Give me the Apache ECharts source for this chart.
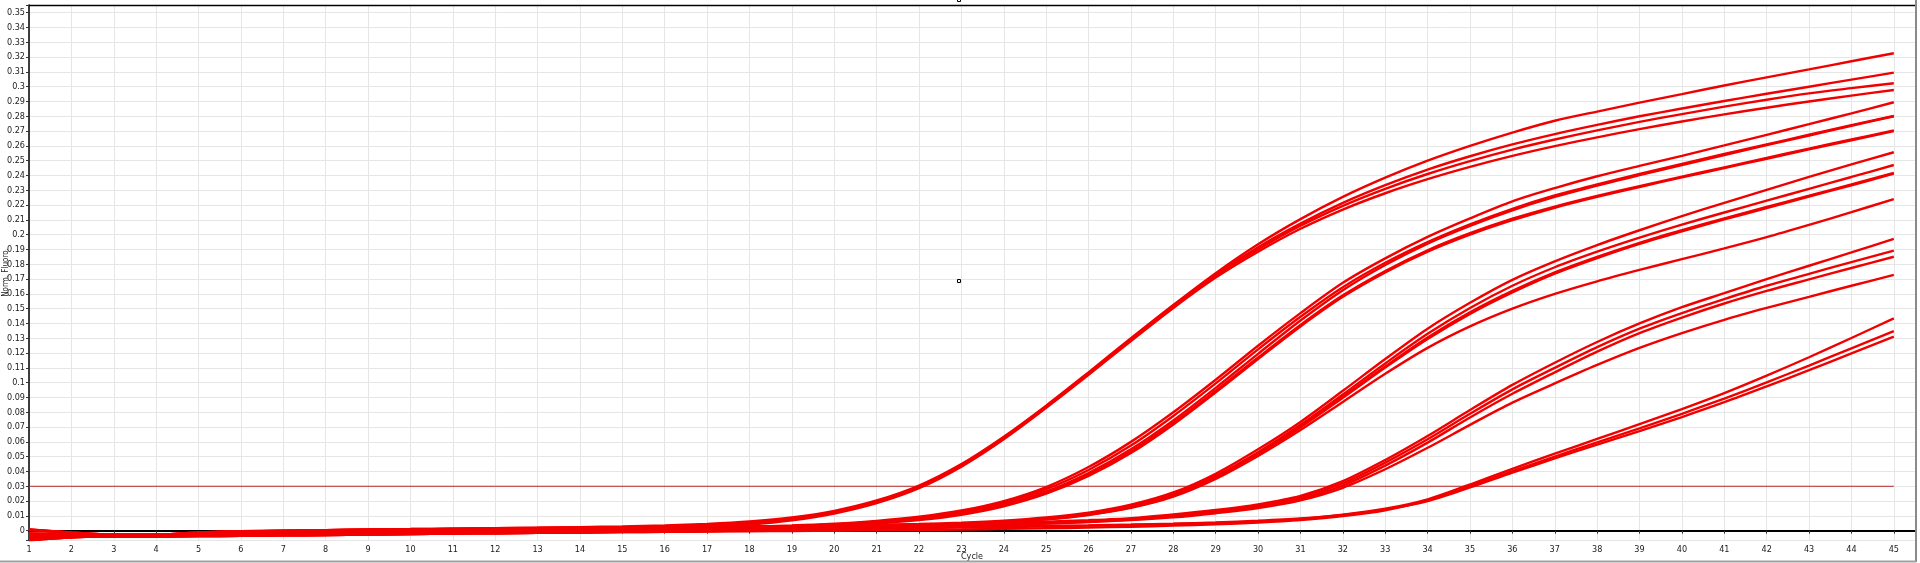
<!DOCTYPE html>
<html>
<head>
<meta charset="utf-8">
<title>Amplification</title>
<script src="https://cdn.jsdelivr.net/npm/echarts@6/dist/echarts.min.js"></script>
<style>
  html, body { margin: 0; padding: 0; background: #fff; }
  #chart { width: 1920px; height: 563px; }
</style>
</head>
<body>
<div id="chart"></div>
<script>
// cycle numbers (x)
const cycles = [1,2,3,4,5,6,7,8,9,10,11,12,13,14,15,16,17,18,19,20,21,22,23,24,25,26,27,28,29,30,31,32,33,34,35,36,37,38,39,40,41,42,43,44,45];

// threshold
const threshold = 0.03;
const thresholdCycles = [1, 45];

// group A (earliest)
const curveA1 = [0.0008,-0.0012,-0.0026,-0.0026,-0.0012,-0.0004,0.0000,0.0004,0.0008,0.0011,0.0014,0.0017,0.0020,
  0.0024,0.0029,0.0036,0.0046,0.0062,0.0089,0.0134,0.0204,0.0305,0.0450,0.0635,0.0845,0.1070,0.1300,0.1525,0.1740,
  0.1935,0.2105,0.2255,0.2385,0.2500,0.2600,0.2690,0.2770,0.2832,0.2892,0.2950,0.3008,0.3063,0.3117,0.3172,0.3226];
const curveA2 = [-0.0040,-0.0035,-0.0034,-0.0034,-0.0030,-0.0026,-0.0022,-0.0018,-0.0014,-0.0010,-0.0007,-0.0004,-0.0001,
  0.0003,0.0009,0.0017,0.0029,0.0047,0.0076,0.0122,0.0192,0.0293,0.0440,0.0625,0.0838,0.1062,0.1292,0.1516,0.1730,
  0.1915,0.2075,0.2215,0.2335,0.2440,0.2530,0.2610,0.2680,0.2742,0.2800,0.2853,0.2903,0.2952,0.3000,0.3048,0.3095];
const curveA3 = [-0.0020,-0.0025,-0.0030,-0.0030,-0.0022,-0.0016,-0.0012,-0.0008,-0.0005,-0.0002,0.0001,0.0004,0.0007,
  0.0011,0.0016,0.0024,0.0035,0.0052,0.0080,0.0126,0.0196,0.0297,0.0442,0.0627,0.0838,0.1060,0.1288,0.1510,0.1720,
  0.1900,0.2060,0.2195,0.2310,0.2410,0.2497,0.2575,0.2643,0.2705,0.2762,0.2815,0.2865,0.2912,0.2955,0.2990,0.3023];
const curveA4 = [-0.0055,-0.0040,-0.0037,-0.0036,-0.0033,-0.0030,-0.0027,-0.0023,-0.0019,-0.0016,-0.0013,-0.0010,-0.0007,
  -0.0003,0.0003,0.0011,0.0023,0.0041,0.0070,0.0116,0.0186,0.0287,0.0433,0.0618,0.0830,0.1053,0.1282,0.1505,0.1710,
  0.1885,0.2040,0.2170,0.2280,0.2375,0.2458,0.2532,0.2598,0.2658,0.2713,0.2765,0.2813,0.2858,0.2900,0.2940,0.2978];

// group B
const curveB1 = [0.0005,-0.0014,-0.0027,-0.0027,-0.0014,-0.0006,-0.0002,0.0002,0.0005,0.0008,0.0011,0.0013,0.0015,
  0.0017,0.0019,0.0021,0.0024,0.0028,0.0035,0.0047,0.0066,0.0094,0.0136,0.0200,0.0295,0.0430,0.0600,0.0800,0.1020,
  0.1250,0.1470,0.1675,0.1840,0.1985,0.2110,0.2225,0.2315,0.2395,0.2465,0.2533,0.2603,0.2675,0.2747,0.2820,0.2895];
const curveB2 = [-0.0065,-0.0045,-0.0040,-0.0039,-0.0037,-0.0034,-0.0032,-0.0029,-0.0026,-0.0023,-0.0020,-0.0017,-0.0014,
  -0.0011,-0.0008,-0.0004,0.0001,0.0008,0.0018,0.0033,0.0054,0.0084,0.0128,0.0190,0.0280,0.0410,0.0575,0.0775,0.0995,
  0.1225,0.1445,0.1645,0.1810,0.1950,0.2070,0.2175,0.2265,0.2340,0.2410,0.2478,0.2545,0.2610,0.2675,0.2740,0.2802];
const curveB3 = [-0.0040,-0.0035,-0.0034,-0.0034,-0.0030,-0.0026,-0.0022,-0.0018,-0.0014,-0.0010,-0.0007,-0.0004,-0.0001,
  0.0002,0.0005,0.0009,0.0014,0.0020,0.0029,0.0042,0.0060,0.0087,0.0125,0.0180,0.0265,0.0390,0.0550,0.0745,0.0965,
  0.1195,0.1420,0.1625,0.1795,0.1940,0.2060,0.2165,0.2255,0.2332,0.2402,0.2470,0.2538,0.2605,0.2670,0.2736,0.2800];
const curveB4 = [-0.0020,-0.0025,-0.0030,-0.0030,-0.0022,-0.0016,-0.0012,-0.0008,-0.0005,-0.0002,0.0001,0.0004,0.0007,
  0.0010,0.0013,0.0016,0.0020,0.0025,0.0032,0.0043,0.0058,0.0082,0.0118,0.0175,0.0258,0.0378,0.0535,0.0728,0.0945,
  0.1170,0.1390,0.1590,0.1755,0.1895,0.2010,0.2108,0.2190,0.2262,0.2328,0.2392,0.2455,0.2518,0.2582,0.2643,0.2705];
const curveB5 = [-0.0055,-0.0040,-0.0037,-0.0036,-0.0033,-0.0030,-0.0027,-0.0023,-0.0019,-0.0016,-0.0013,-0.0010,-0.0007,
  -0.0004,-0.0001,0.0003,0.0008,0.0014,0.0022,0.0033,0.0049,0.0072,0.0108,0.0165,0.0250,0.0370,0.0525,0.0718,0.0935,
  0.1160,0.1380,0.1580,0.1745,0.1885,0.2000,0.2098,0.2182,0.2255,0.2322,0.2387,0.2450,0.2513,0.2577,0.2638,0.2700];

// group C
const curveC1 = [0.0006,-0.0013,-0.0026,-0.0027,-0.0013,-0.0005,-0.0001,0.0003,0.0006,0.0009,0.0012,0.0014,0.0016,
  0.0018,0.0020,0.0022,0.0024,0.0026,0.0029,0.0033,0.0038,0.0045,0.0054,0.0068,0.0090,0.0122,0.0175,0.0258,0.0385,
  0.0550,0.0735,0.0945,0.1160,0.1365,0.1540,0.1695,0.1820,0.1930,0.2030,0.2125,0.2215,0.2303,0.2390,0.2475,0.2557];
const curveC2 = [-0.0040,-0.0035,-0.0034,-0.0034,-0.0030,-0.0026,-0.0022,-0.0018,-0.0014,-0.0010,-0.0007,-0.0004,-0.0001,
  0.0002,0.0005,0.0008,0.0011,0.0014,0.0018,0.0023,0.0029,0.0037,0.0047,0.0061,0.0082,0.0114,0.0165,0.0245,0.0370,
  0.0530,0.0715,0.0920,0.1130,0.1330,0.1505,0.1655,0.1780,0.1885,0.1980,0.2068,0.2150,0.2230,0.2310,0.2390,0.2471];
const curveC3 = [-0.0065,-0.0045,-0.0040,-0.0039,-0.0037,-0.0034,-0.0032,-0.0029,-0.0026,-0.0023,-0.0020,-0.0017,-0.0014,
  -0.0011,-0.0008,-0.0005,-0.0002,0.0002,0.0007,0.0013,0.0020,0.0029,0.0040,0.0055,0.0077,0.0109,0.0160,0.0240,0.0365,
  0.0525,0.0705,0.0905,0.1110,0.1305,0.1475,0.1620,0.1745,0.1850,0.1945,0.2030,0.2110,0.2187,0.2263,0.2340,0.2418];
const curveC4 = [-0.0020,-0.0025,-0.0030,-0.0030,-0.0022,-0.0016,-0.0012,-0.0008,-0.0005,-0.0002,0.0001,0.0004,0.0007,
  0.0010,0.0012,0.0014,0.0016,0.0018,0.0021,0.0025,0.0030,0.0037,0.0046,0.0059,0.0079,0.0110,0.0158,0.0235,0.0360,
  0.0518,0.0698,0.0898,0.1102,0.1295,0.1465,0.1610,0.1737,0.1842,0.1938,0.2023,0.2103,0.2180,0.2257,0.2334,0.2412];
const curveC5 = [-0.0055,-0.0040,-0.0037,-0.0036,-0.0033,-0.0030,-0.0027,-0.0023,-0.0019,-0.0016,-0.0013,-0.0010,-0.0007,
  -0.0004,-0.0001,0.0002,0.0005,0.0008,0.0012,0.0017,0.0023,0.0031,0.0042,0.0056,0.0076,0.0106,0.0154,0.0230,0.0350,
  0.0505,0.0680,0.0870,0.1060,0.1235,0.1380,0.1500,0.1600,0.1685,0.1762,0.1835,0.1907,0.1983,0.2066,0.2152,0.2241];

// group D
const curveD1 = [0.0008,-0.0012,-0.0026,-0.0026,-0.0012,-0.0004,0.0000,0.0004,0.0008,0.0011,0.0014,0.0017,0.0020,
  0.0022,0.0024,0.0026,0.0028,0.0030,0.0032,0.0035,0.0038,0.0042,0.0047,0.0053,0.0061,0.0071,0.0085,0.0110,0.0140,
  0.0178,0.0235,0.0335,0.0478,0.0640,0.0815,0.0985,0.1135,0.1275,0.1400,0.1510,0.1605,0.1700,0.1790,0.1880,0.1971];
const curveD2 = [-0.0040,-0.0035,-0.0034,-0.0034,-0.0030,-0.0026,-0.0022,-0.0018,-0.0014,-0.0010,-0.0007,-0.0004,-0.0001,
  0.0001,0.0003,0.0006,0.0009,0.0012,0.0016,0.0020,0.0025,0.0031,0.0038,0.0046,0.0055,0.0066,0.0080,0.0104,0.0134,
  0.0170,0.0225,0.0320,0.0460,0.0618,0.0790,0.0955,0.1100,0.1240,0.1365,0.1470,0.1565,0.1655,0.1735,0.1815,0.1892];
const curveD3 = [-0.0065,-0.0045,-0.0040,-0.0039,-0.0037,-0.0034,-0.0032,-0.0029,-0.0026,-0.0023,-0.0020,-0.0017,-0.0014,
  -0.0012,-0.0010,-0.0007,-0.0004,-0.0001,0.0003,0.0008,0.0014,0.0021,0.0029,0.0038,0.0048,0.0060,0.0075,0.0097,0.0127,
  0.0162,0.0215,0.0305,0.0440,0.0595,0.0765,0.0925,0.1070,0.1210,0.1335,0.1440,0.1535,0.1620,0.1698,0.1775,0.1851];
const curveD4 = [-0.0055,-0.0040,-0.0037,-0.0036,-0.0033,-0.0030,-0.0027,-0.0023,-0.0019,-0.0016,-0.0013,-0.0010,-0.0007,
  -0.0005,-0.0003,0.0000,0.0003,0.0006,0.0010,0.0014,0.0019,0.0025,0.0032,0.0040,0.0049,0.0059,0.0072,0.0090,0.0118,
  0.0152,0.0205,0.0290,0.0415,0.0560,0.0715,0.0865,0.0995,0.1120,0.1235,0.1335,0.1425,0.1505,0.1580,0.1655,0.1728];

// group E (latest)
const curveE1 = [-0.0020,-0.0025,-0.0030,-0.0030,-0.0022,-0.0016,-0.0012,-0.0008,-0.0005,-0.0002,0.0001,0.0004,0.0007,
  0.0009,0.0011,0.0013,0.0015,0.0017,0.0019,0.0021,0.0023,0.0025,0.0027,0.0030,0.0033,0.0036,0.0040,0.0045,0.0052,
  0.0062,0.0080,0.0108,0.0148,0.0212,0.0312,0.0418,0.0520,0.0620,0.0720,0.0822,0.0930,0.1048,0.1172,0.1302,0.1435];
const curveE2 = [-0.0065,-0.0045,-0.0040,-0.0039,-0.0037,-0.0034,-0.0032,-0.0029,-0.0026,-0.0023,-0.0020,-0.0017,-0.0014,
  -0.0012,-0.0010,-0.0008,-0.0006,-0.0004,-0.0002,0.0000,0.0002,0.0005,0.0008,0.0012,0.0016,0.0021,0.0027,0.0034,0.0043,
  0.0055,0.0072,0.0098,0.0138,0.0205,0.0300,0.0402,0.0500,0.0597,0.0692,0.0790,0.0893,0.1002,0.1116,0.1232,0.1349];
const curveE3 = [-0.0040,-0.0035,-0.0034,-0.0034,-0.0030,-0.0026,-0.0022,-0.0018,-0.0014,-0.0010,-0.0007,-0.0004,-0.0001,
  0.0001,0.0003,0.0005,0.0007,0.0009,0.0011,0.0013,0.0015,0.0018,0.0021,0.0025,0.0029,0.0034,0.0040,0.0047,0.0056,
  0.0067,0.0082,0.0106,0.0144,0.0200,0.0292,0.0392,0.0488,0.0582,0.0673,0.0768,0.0868,0.0975,0.1085,0.1198,0.1311];

const curves = [
  curveA1, curveA2, curveA3, curveA4,
  curveB1, curveB2, curveB3, curveB4, curveB5,
  curveC1, curveC2, curveC3, curveC4, curveC5,
  curveD1, curveD2, curveD3, curveD4,
  curveE1, curveE2, curveE3
];

const chart = echarts.init(document.getElementById('chart'));

const labelFont = {
  fontFamily: '"Liberation Sans Narrow", "DejaVu Sans Condensed", "Liberation Sans", sans-serif',
  fontSize: 9,
  color: '#222'
};

let series = curves.map(function (values, k) {
  return {
    name: 'well' + (k + 1),
    type: 'line',
    data: cycles.map(function (c, i) { return [c, values[i]]; }),
    symbol: 'none',
    smooth: 0.3,
    silent: true,
    z: 3,
    lineStyle: { color: '#f20000', width: 2.4 }
  };
});

series.unshift({
  name: 'threshold',
  type: 'line',
  data: thresholdCycles.map(function (c) { return [c, threshold]; }),
  symbol: 'none',
  silent: true,
  z: 2,
  lineStyle: { color: '#b42828', width: 1 }
});

const option = {
  animation: false,
  backgroundColor: '#fff',
  grid: { left: 29, right: 5, top: 5, bottom: 23, containLabel: false, outerBoundsMode: 'none' },
  xAxis: {
    type: 'value',
    min: 1,
    max: 45.5,
    interval: 1,
    name: 'Cycle',
    nameLocation: 'middle',
    nameGap: 12,
    nameMoveOverlap: false,
    nameTextStyle: labelFont,
    axisLine: { lineStyle: { color: '#000', width: 2 } },
    axisTick: { length: 3, lineStyle: { color: '#333' } },
    axisLabel: Object.assign({
      margin: 5,
      formatter: function (v) { return Number.isInteger(v) ? String(v) : ''; }
    }, labelFont),
    splitLine: { show: true, lineStyle: { color: '#e6e6e6', width: 1 } }
  },
  yAxis: {
    type: 'value',
    min: -0.0063,
    max: 0.3552,
    minInterval: 0.01,
    maxInterval: 0.01,
    splitNumber: 36,
    name: 'Norm. Fluoro.',
    nameLocation: 'middle',
    nameGap: 19,
    nameMoveOverlap: false,
    nameTextStyle: Object.assign({}, labelFont, { fontSize: 8 }),
    axisLine: { show: true, lineStyle: { color: '#000', width: 1.5 } },
    axisTick: { show: true, length: 3, lineStyle: { color: '#333' } },
    axisLabel: Object.assign({
      margin: 4,
      formatter: function (v) {
        if (v < -0.0001 || v > 0.3501) return '';
        return String(+v.toFixed(2));
      }
    }, labelFont),
    splitLine: { show: true, lineStyle: { color: '#e6e6e6', width: 1 } }
  },
  graphic: [
    { type: 'line', shape: { x1: 29, y1: 5.5, x2: 1915, y2: 5.5 }, style: { stroke: '#000', lineWidth: 1.5 }, z: 10 },
    { type: 'line', shape: { x1: 1916, y1: 0, x2: 1916, y2: 562 }, style: { stroke: '#8a8a8a', lineWidth: 2 }, z: 10 },
    { type: 'line', shape: { x1: 0, y1: 561.5, x2: 1916, y2: 561.5 }, style: { stroke: '#a0a0a0', lineWidth: 2 }, z: 10 },
    { type: 'rect', shape: { x: 957.5, y: 279.5, width: 3, height: 3 }, style: { fill: '#fff', stroke: '#000', lineWidth: 1 }, z: 10 },
    { type: 'rect', shape: { x: 957.5, y: -1.5, width: 3, height: 3 }, style: { fill: '#fff', stroke: '#000', lineWidth: 1 }, z: 10 }
  ],
  series: series
};

chart.setOption(option);
</script>
</body>
</html>
